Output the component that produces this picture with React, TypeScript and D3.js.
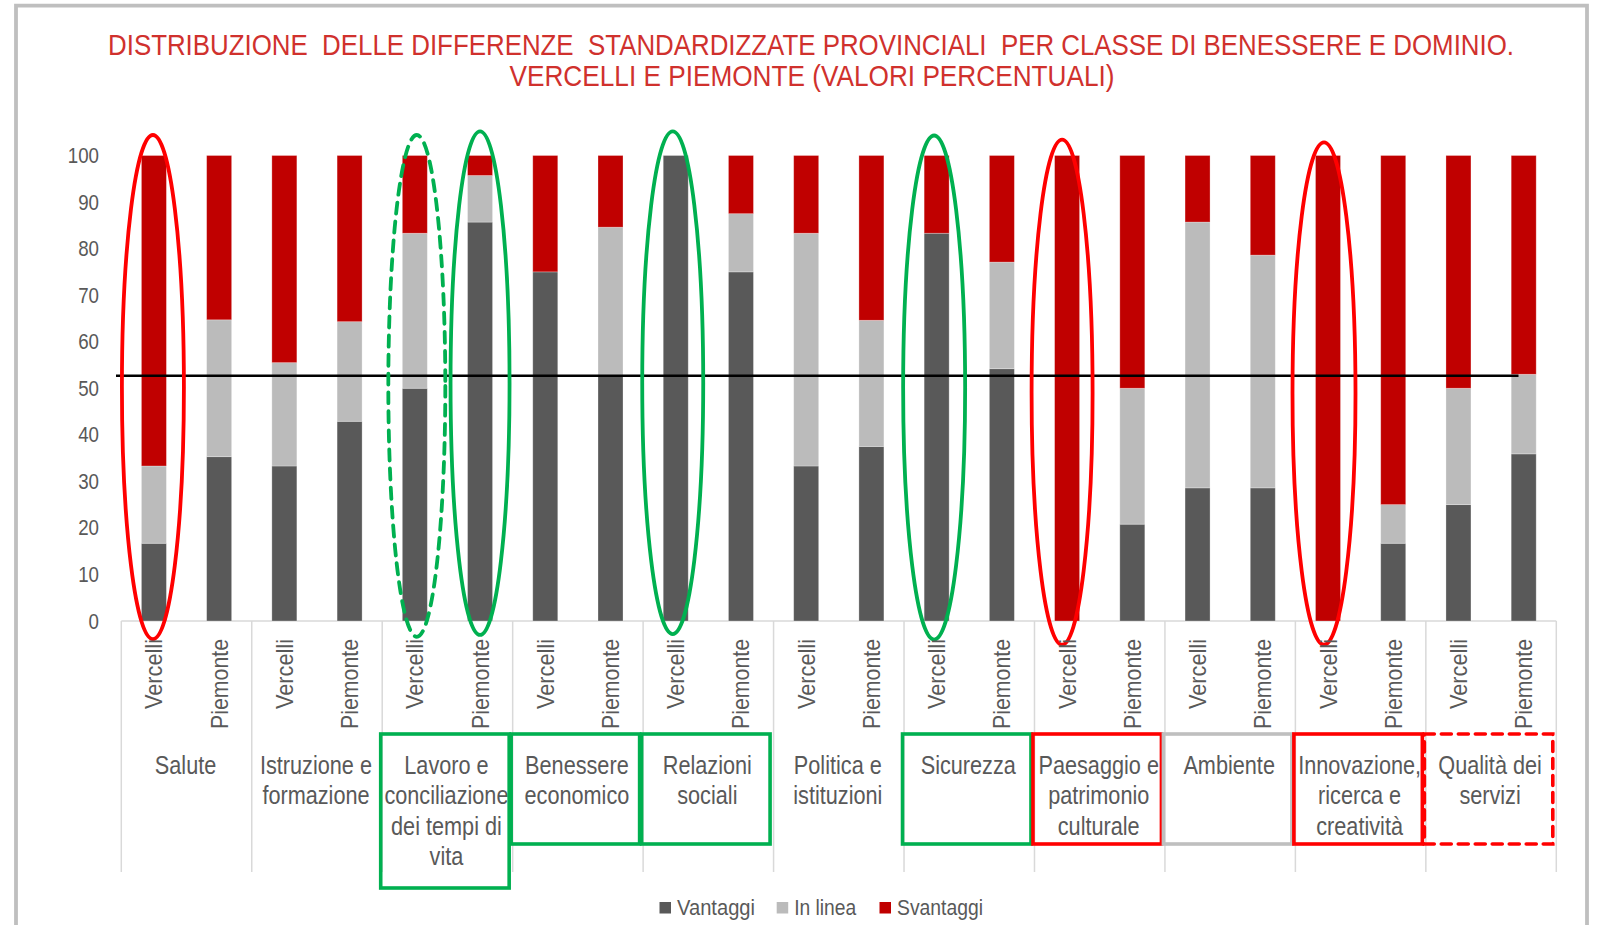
import React from 'react';
import * as d3 from 'd3';

const categories = [
  'Salute',
  'Istruzione e formazione',
  'Lavoro e conciliazione dei tempi di vita',
  'Benessere economico',
  'Relazioni sociali',
  'Politica e istituzioni',
  'Sicurezza',
  'Paesaggio e patrimonio culturale',
  'Ambiente',
  'Innovazione, ricerca e creatività',
  'Qualità dei servizi',
];
const categoryLines = [
  ['Salute'],
  ['Istruzione e', 'formazione'],
  ['Lavoro e', 'conciliazione', 'dei tempi di', 'vita'],
  ['Benessere', 'economico'],
  ['Relazioni', 'sociali'],
  ['Politica e', 'istituzioni'],
  ['Sicurezza'],
  ['Paesaggio e', 'patrimonio', 'culturale'],
  ['Ambiente'],
  ['Innovazione,', 'ricerca e', 'creatività'],
  ['Qualità dei', 'servizi'],
];
const places = ['Vercelli', 'Piemonte'];
const seriesNames = ['Vantaggi', 'In linea', 'Svantaggi'];
const seriesColors = ['#595959', '#bbbbbb', '#c00000'];

const vercelliVantaggi = [16.7, 33.3, 50.0, 75.0, 100, 33.3, 83.3, 0, 28.6, 0, 25.0];
const vercelliInLinea = [16.6, 22.2, 33.3, 0, 0, 50.0, 0, 0, 57.1, 0, 25.0];
const vercelliSvantaggi = [66.7, 44.5, 16.7, 25.0, 0, 16.7, 16.7, 100, 14.3, 100, 50.0];
const piemonteVantaggi = [35.3, 42.9, 85.7, 53.0, 75.0, 37.5, 54.2, 20.8, 28.6, 16.7, 35.9];
const piemonteInLinea = [29.4, 21.4, 10.0, 31.6, 12.5, 27.1, 22.9, 29.2, 50.0, 8.3, 17.1];
const piemonteSvantaggi = [35.3, 35.7, 4.3, 15.4, 12.5, 35.4, 22.9, 50.0, 21.4, 75.0, 47.0];

const yTicks = [0, 10, 20, 30, 40, 50, 60, 70, 80, 90, 100];
const referenceValue = 52.7;

const titleLine1 = 'DISTRIBUZIONE  DELLE DIFFERENZE  STANDARDIZZATE PROVINCIALI  PER CLASSE DI BENESSERE E DOMINIO.';
const titleLine2 = 'VERCELLI E PIEMONTE (VALORI PERCENTUALI)';

// hand-drawn annotations (category index, place, colour, dashed, extent in data units)
const ellipseCats = [0, 2, 2, 4, 6, 7, 9];
const ellipsePlaces = ['Vercelli', 'Vercelli', 'Piemonte', 'Vercelli', 'Vercelli', 'Vercelli', 'Vercelli'];
const ellipseColors = ['#ff0000', '#00b050', '#00b050', '#00b050', '#00b050', '#ff0000', '#ff0000'];
const ellipseDashed = [false, true, false, false, false, false, false];
const ellipseTop = [104.4, 104.4, 105.2, 105.2, 104.3, 103.4, 102.8];
const ellipseBottom = [-3.9, -3.4, -3.0, -2.8, -4.0, -5.1, -5.1];
const ellipseDx = [-1, 2, 0, -3, -2.5, -5, -4];
const ellipseRx = [31, 28.5, 29.5, 30.5, 31, 30.5, 31.5];

const boxCats = [2, 3, 4, 6, 7, 8, 9, 10];
const boxColors = ['#00b050', '#00b050', '#00b050', '#00b050', '#ff0000', '#bfbfbf', '#ff0000', '#ff0000'];
const boxDashed = [false, false, false, false, false, false, false, true];
const boxTall = [true, false, false, false, false, false, false, false];

const FONT = "'Liberation Sans', Arial, sans-serif";
const TEXT = '#595959';

export default function App() {
  const W = 1598;
  const H = 925;
  const x = d3.scaleBand<string>().domain(categories).range([121.3, 1556.3]);
  const xs = d3.scaleBand<string>().domain(places).range([0, x.bandwidth()]);
  const y = d3.scaleLinear().domain([0, 100]).range([621, 155.5]);
  const barW = 25;

  const rows = categories.flatMap((c, i) => [
    { cat: c, place: 'Vercelli', Vantaggi: vercelliVantaggi[i], 'In linea': vercelliInLinea[i], Svantaggi: vercelliSvantaggi[i] },
    { cat: c, place: 'Piemonte', Vantaggi: piemonteVantaggi[i], 'In linea': piemonteInLinea[i], Svantaggi: piemonteSvantaggi[i] },
  ]);
  const stacked = d3.stack<any>().keys(seriesNames)(rows);
  const cx = (cat: string, place: string) => (x(cat) as number) + (xs(place) as number) + xs.bandwidth() / 2;

  const bounds = categories.map((c) => x(c) as number).concat([x.range()[1]]);
  const tScale = 0.84;

  return (
    <svg width={W} height={H} style={{ position: 'absolute', left: 0, top: 0, background: '#fff' }} fontFamily={FONT}>
      <rect x={0} y={0} width={W} height={H} fill="#fff" />
      {/* frame */}
      <path d={`M16,${H + 5} L16,5.6 L1587,5.6 L1587,${H + 5}`} fill="none" stroke="#bfbfbf" strokeWidth={3.8} />

      {/* title */}
      <g transform={`translate(811,55) scale(${tScale},1)`}>
        <text x={0} y={0} fontSize={30} fill="#d0312d" textAnchor="middle" textLength={1406 / tScale}
          lengthAdjust="spacingAndGlyphs" style={{ whiteSpace: 'pre' }}>
          {titleLine1}
        </text>
      </g>
      <g transform={`translate(812,85.5) scale(${tScale},1)`}>
        <text x={0} y={0} fontSize={30} fill="#d0312d" textAnchor="middle" textLength={605 / tScale}
          lengthAdjust="spacingAndGlyphs">
          {titleLine2}
        </text>
      </g>

      {/* y tick labels */}
      {yTicks.map((t) => (
        <text key={t} x={0} y={0} fontSize={22} fill={TEXT} textAnchor="end"
          transform={`translate(99,${y(t) + 7.5}) scale(0.85,1)`}>
          {t}
        </text>
      ))}

      {/* category separators and axis */}
      {bounds.map((b, i) => (
        <line key={i} x1={b} x2={b} y1={621} y2={872} stroke="#d9d9d9" strokeWidth={1.5} />
      ))}
      <line x1={x.range()[0]} x2={x.range()[1]} y1={621} y2={621} stroke="#d9d9d9" strokeWidth={1.5} />

      {/* bars */}
      {stacked.map((layer, li) => (
        <g key={layer.key} fill={seriesColors[li]}>
          {layer.map((d: any, j: number) => {
            const h = y(d[0]) - y(d[1]);
            if (h <= 0) return null;
            return (
              <rect key={j} x={cx(d.data.cat, d.data.place) - barW / 2} y={y(d[1])} width={barW} height={h}
                stroke="#ffffff" strokeOpacity={0.35} strokeWidth={0.8} />
            );
          })}
        </g>
      ))}

      {/* reference line */}
      <line x1={116} x2={1518.5} y1={y(referenceValue)} y2={y(referenceValue)} stroke="#000" strokeWidth={2.6} />

      {/* ellipses */}
      {ellipseCats.map((ci, k) => {
        const top = y(ellipseTop[k]);
        const bot = y(ellipseBottom[k]);
        return (
          <ellipse key={k} cx={cx(categories[ci], ellipsePlaces[k]) + ellipseDx[k]} cy={(top + bot) / 2}
            rx={ellipseRx[k]} ry={(bot - top) / 2} fill="none" stroke={ellipseColors[k]} strokeWidth={3.8}
            strokeDasharray={ellipseDashed[k] ? '11 8' : undefined} strokeLinecap={ellipseDashed[k] ? 'round' : undefined} />
        );
      })}

      {/* place labels */}
      {categories.map((c) =>
        places.map((p) => (
          <text key={c + p} x={0} y={0} fontSize={24} fill={TEXT} textAnchor="end"
            transform={`translate(${cx(c, p) + 8.5},639) rotate(-90)`}
            textLength={p === 'Vercelli' ? 70 : 90} lengthAdjust="spacingAndGlyphs">
            {p}
          </text>
        ))
      )}

      {/* category labels */}
      {categories.map((c, i) => (
        <g key={c}>
          {categoryLines[i].map((ln, li) => (
            <text key={li} x={0} y={0} fontSize={25.5} fill={TEXT} textAnchor="middle"
              transform={`translate(${(x(c) as number) + x.bandwidth() / 2 - 1},${773.5 + li * 30.5}) scale(0.85,1)`}>
              {ln}
            </text>
          ))}
        </g>
      ))}

      {/* annotation boxes */}
      {boxCats.map((ci, k) => {
        const x0 = (x(categories[ci]) as number) - 3;
        return (
          <rect key={k} x={x0 + 1.5} y={734} width={x.bandwidth() - 2} height={boxTall[k] ? 154 : 110}
            fill="none" stroke={boxColors[k]} strokeWidth={3.6}
            strokeDasharray={boxDashed[k] ? '10 7' : undefined} strokeLinecap={boxDashed[k] ? 'round' : undefined} />
        );
      })}

      {/* legend */}
      {seriesNames.map((s, i) => {
        const sx = [659.5, 776.7, 879.5][i];
        const tl = [78, 62, 86][i];
        return (
          <g key={s}>
            <rect x={sx} y={902} width={11.5} height={11.5} fill={seriesColors[i]} />
            <text x={sx + 17.5} y={915} fontSize={22} fill={TEXT} textLength={tl} lengthAdjust="spacingAndGlyphs">{s}</text>
          </g>
        );
      })}
    </svg>
  );
}
